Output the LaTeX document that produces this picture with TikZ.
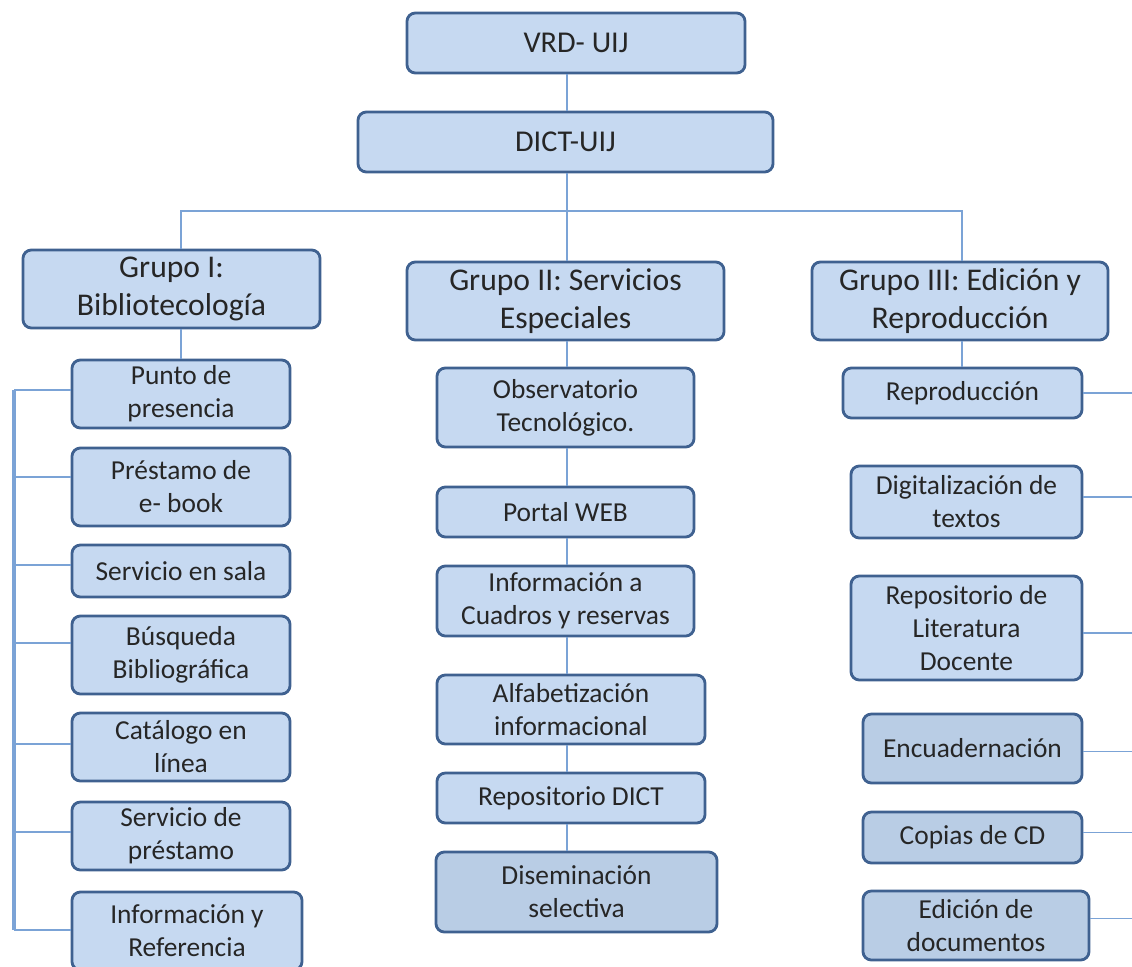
\documentclass[tikz,border=0pt]{standalone}
\usepackage{fontspec}
\setmainfont{Carlito}
\usetikzlibrary{calc}
\definecolor{boxfill}{HTML}{C6D9F1}
\definecolor{boxfilld}{HTML}{B9CDE5}
\definecolor{boxline}{HTML}{3F6190}
\definecolor{connc}{HTML}{7BA3D6}
\definecolor{txt}{HTML}{262626}
\tikzset{
 box/.style={draw=boxline, line width=2pt, fill=boxfill, rounded corners=6pt, align=center, inner sep=0pt, text=txt, font=\fontsize{19.5}{23.5}\selectfont},
 dbox/.style={box, fill=boxfilld},
 topbox/.style={box, font=\fontsize{21.5}{26}\selectfont},
 grpbox/.style={box, font=\fontsize{22.5}{27}\selectfont},
 conn/.style={draw=connc, line width=1.2pt},
 spine/.style={draw=connc, line width=2.4pt},
}
\begin{document}
\begin{tikzpicture}[x=0.025cm, y=-0.025cm]
\useasboundingbox (0,0) rectangle (1132,967);
\clip (0,0) rectangle (1132,967);
% helper coordinates
\coordinate (mx) at (567,0);
\coordinate (bus) at (567,211);
\coordinate (l1) at (181,211);
\coordinate (r1) at (962,211);
\coordinate (sp) at (14,0);
\coordinate (ed) at (1140,0);
% top
\node[topbox, minimum width=8.45cm, minimum height=1.5cm] (vrd) at (576,43) {VRD- UIJ};
\node[topbox, minimum width=10.375cm, minimum height=1.5cm] (dict) at (565.5,142) {DICT-UIJ};
% groups
\node[grpbox, minimum width=7.425cm, minimum height=1.95cm] (g1) at (171.5,289) {Grupo I:\\Bibliotecología};
\node[grpbox, minimum width=7.925cm, minimum height=1.95cm] (g2) at (565.5,301) {Grupo II: Servicios\\Especiales};
\node[grpbox, minimum width=7.4cm, minimum height=1.95cm] (g3) at (960,301) {Grupo III: Edición y\\Reproducción};
% left column
\node[box, minimum width=5.45cm, minimum height=1.7cm] (punto) at (181,394) {Punto de\\presencia};
\node[box, minimum width=5.45cm, minimum height=1.95cm] (pre) at (181,487) {Préstamo de\\e- book};
\node[box, minimum width=5.45cm, minimum height=1.3cm] (sala) at (181,571) {Servicio en sala};
\node[box, minimum width=5.45cm, minimum height=1.95cm] (bus2) at (181,655) {Búsqueda\\Bibliográfica};
\node[box, minimum width=5.45cm, minimum height=1.7cm] (cat) at (181,747) {Catálogo en\\línea};
\node[box, minimum width=5.45cm, minimum height=1.7cm] (serv) at (181,836) {Servicio de\\préstamo};
\node[box, minimum width=5.75cm, minimum height=1.95cm] (inf) at (187,931) {Información y\\Referencia};
% middle column
\node[box, minimum width=6.425cm, minimum height=1.975cm] (obs) at (565.5,407.5) {Observatorio\\Tecnológico.};
\node[box, minimum width=6.425cm, minimum height=1.25cm] (portal) at (565.5,512) {Portal WEB};
\node[box, minimum width=6.425cm, minimum height=1.75cm] (cuad) at (565.5,601) {Información a\\Cuadros y reservas};
\node[box, minimum width=6.7cm, minimum height=1.725cm] (alfa) at (571,709.5) {Alfabetización\\informacional};
\node[box, minimum width=6.7cm, minimum height=1.25cm] (repo) at (571,798) {Repositorio DICT};
\node[dbox, minimum width=7.025cm, minimum height=2.0cm] (dise) at (576.5,892) {Diseminación\\selectiva};
% right column
\node[box, minimum width=5.975cm, minimum height=1.25cm] (repro) at (962.5,393) {Reproducción};
\node[box, minimum width=5.775cm, minimum height=1.8cm] (digi) at (966.5,502) {Digitalización de\\textos};
\node[box, minimum width=5.775cm, minimum height=2.6cm] (rlit) at (966.5,628) {Repositorio de\\Literatura\\Docente};
\node[dbox, minimum width=5.475cm, minimum height=1.725cm] (encu) at (972.5,748.5) {Encuadernación};
\node[dbox, minimum width=5.475cm, minimum height=1.275cm] (cop) at (972.5,837.5) {Copias de CD};
\node[dbox, minimum width=5.65cm, minimum height=1.725cm] (edi) at (976,925.5) {Edición de\\documentos};
% top connectors
\draw[conn] (vrd.south -| mx) -- (dict.north -| mx);
\draw[conn] (dict.south -| mx) -- (bus);
\draw[conn] (g1.north -| l1) -- (l1) -- (r1) -- (g3.north -| r1);
\draw[conn] (bus) -- (g2.north -| mx);
% left
\draw[conn] (g1.south -| l1) -- (punto.north -| l1);
\coordinate (b1) at ($(punto.west)+(0,-4)$);
\coordinate (b2) at ($(pre.west)+(0,-10)$);
\coordinate (b3) at ($(sala.west)+(0,-6)$);
\coordinate (b4) at ($(bus2.west)+(0,-12)$);
\coordinate (b5) at ($(cat.west)+(0,-3)$);
\coordinate (b6) at ($(serv.west)+(0,-4)$);
\coordinate (b7) at ($(inf.west)+(0,-1)$);
\draw[spine] (b1 -| sp) -- (b7 -| sp);
\foreach \b in {b1,b2,b3,b4,b5,b6,b7} \draw[conn] (\b) -- (\b -| sp);
% middle
\draw[conn] (g2.south -| mx) -- (obs.north -| mx);
\draw[conn] (obs.south -| mx) -- (portal.north -| mx);
\draw[conn] (portal.south -| mx) -- (cuad.north -| mx);
\draw[conn] (cuad.south -| mx) -- (alfa.north -| mx);
\draw[conn] (alfa.south -| mx) -- (repo.north -| mx);
\draw[conn] (repo.south -| mx) -- (dise.north -| mx);
% right
\draw[conn] (g3.south -| r1) -- (repro.north -| r1);
\coordinate (c1) at (repro.east);
\coordinate (c2) at ($(digi.east)+(0,-5)$);
\coordinate (c3) at ($(rlit.east)+(0,5)$);
\coordinate (c4) at ($(encu.east)+(0,3)$);
\coordinate (c5) at ($(cop.east)+(0,-5)$);
\coordinate (c6) at ($(edi.east)+(0,-7)$);
\foreach \c in {c1,c2,c3,c4,c5,c6} \draw[conn] (\c) -- (\c -| ed);
\end{tikzpicture}
\end{document}
